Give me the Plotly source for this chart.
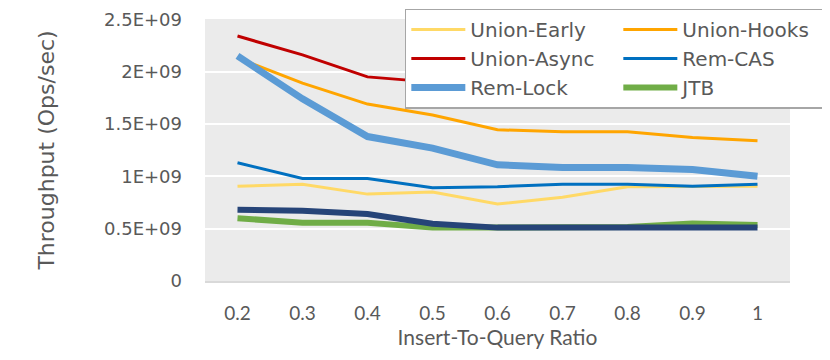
import plotly.graph_objects as go

ratios = [0.2, 0.3, 0.4, 0.5, 0.6, 0.7, 0.8, 0.9, 1.0]
ratio_labels = ["0.2", "0.3", "0.4", "0.5", "0.6", "0.7", "0.8", "0.9", "1"]

union_early = [0.905e9, 0.925e9, 0.83e9, 0.85e9, 0.735e9, 0.80e9, 0.90e9, 0.90e9, 0.905e9]
union_hooks = [2.13e9, 1.89e9, 1.69e9, 1.585e9, 1.445e9, 1.425e9, 1.425e9, 1.37e9, 1.34e9]
union_async = [2.34e9, 2.16e9, 1.95e9, 1.90e9, 1.74e9, 1.745e9, 1.77e9, 1.72e9, 1.68e9]
rem_cas = [1.13e9, 0.98e9, 0.98e9, 0.89e9, 0.90e9, 0.925e9, 0.925e9, 0.905e9, 0.925e9]
rem_lock = [2.15e9, 1.74e9, 1.38e9, 1.27e9, 1.11e9, 1.085e9, 1.085e9, 1.066e9, 1.0e9]
jtb = [0.60e9, 0.556e9, 0.556e9, 0.51e9, 0.51e9, 0.51e9, 0.515e9, 0.55e9, 0.535e9]
unlabeled = [0.68e9, 0.67e9, 0.64e9, 0.547e9, 0.51e9, 0.51e9, 0.51e9, 0.51e9, 0.51e9]

y_ticks = [0, 0.5e9, 1e9, 1.5e9, 2e9, 2.5e9]
y_labels = ["0", "0.5E+09", "1E+09", "1.5E+09", "2E+09", "2.5E+09"]

series = [
    ("Union-Early", union_early, "#FFD966", 3, True),
    ("Union-Hooks", union_hooks, "#FFA500", 3, True),
    ("Union-Async", union_async, "#C00000", 3, True),
    ("Rem-CAS", rem_cas, "#0070C0", 3, True),
    ("Rem-Lock", rem_lock, "#5B9BD5", 7, True),
    ("JTB", jtb, "#70AD47", 6, True),
    ("", unlabeled, "#264478", 6, False),
]

fig = go.Figure()
for name, vals, col, w, show in series:
    fig.add_trace(go.Scatter(x=ratios, y=vals, name=name, mode="lines",
                             line=dict(color=col, width=w), showlegend=show))

# page body adds an 8px margin, so the figure is 8px smaller than the window
fig.update_layout(
    width=822, height=352,
    margin=dict(l=197, r=40, t=11, b=79, autoexpand=False),
    paper_bgcolor="white", plot_bgcolor="#EBEBEB",
    font=dict(family="DejaVu Sans", color="#595959"),
    legend=dict(orientation="h", x=1.0715, xanchor="right", y=1.04, yanchor="top",
                entrywidth=143, itemwidth=54, bgcolor="white",
                bordercolor="#A6A6A6", borderwidth=1.5,
                font=dict(family="DejaVu Sans", size=20, color="#595959")),
)
fig.update_xaxes(range=[0.15, 1.05], tickvals=ratios, ticktext=ratio_labels,
                 showgrid=False, zeroline=False, showline=True, linecolor="#D9D9D9",
                 linewidth=2, ticks="", ticklabelstandoff=14,
                 tickfont=dict(family="Lato", size=19, color="#595959"),
                 title=dict(text="Insert-To-Query Ratio", standoff=4,
                            font=dict(family="Lato", size=21, color="#595959")))
fig.update_yaxes(range=[0, 2.503e9], tickvals=y_ticks, ticktext=y_labels,
                 showgrid=True, gridcolor="white", gridwidth=2, zeroline=False,
                 ticks="", ticklabelstandoff=22, ticklabeloverflow="allow",
                 tickfont=dict(family="DejaVu Sans", size=18, color="#595959"),
                 title=dict(text="Throughput (Ops/sec)", standoff=43,
                            font=dict(family="DejaVu Sans", size=22, color="#595959")))

fig.write_html("out.html")
